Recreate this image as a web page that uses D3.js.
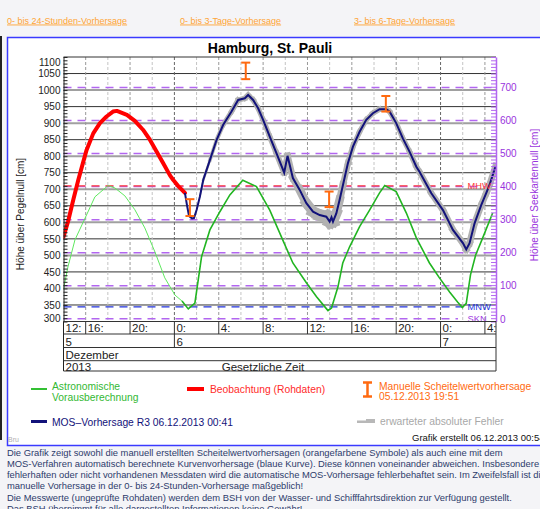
<!DOCTYPE html>
<html>
<head>
<meta charset="utf-8">
<script src="https://cdn.jsdelivr.net/npm/d3@7"></script>
<style>
body { margin: 0; background: #f4f4f7; overflow: hidden; }
svg { display: block; font-family: "Liberation Sans", Arial, sans-serif; }
</style>
</head>
<body>
<svg id="chart" width="540" height="509"></svg>
<script>
// --- data (Pegel Hamburg St. Pauli, cm ueber Pegelnull) ---
const SKN = 308;   // Seekartennull, in cm ueber PN
const MHW = 710;
const MNW = 344;
const issued = "06 00:41"; // MOS-Vorhersage R3

const astro = [
  ["05 14:00", 398], ["05 14:24", 465], ["05 15:02", 547], ["05 16:02", 619],
  ["05 16:50", 677], ["05 18:01", 711], ["05 18:38", 704], ["05 19:32", 680],
  ["05 20:26", 638], ["05 21:20", 583], ["05 22:15", 510], ["05 23:08", 432],
  ["06 00:03", 380], ["06 00:41", 362], ["06 01:15", 338], ["06 01:51", 356],
  ["06 02:27", 496], ["06 03:12", 577], ["06 04:06", 632], ["06 05:00", 683],
  ["06 06:10", 727], ["06 07:24", 708], ["06 08:36", 637], ["06 09:46", 547],
  ["06 10:41", 477], ["06 11:54", 417], ["06 12:49", 375], ["06 13:33", 345],
  ["06 13:51", 333], ["06 14:10", 341], ["06 14:45", 405], ["06 15:11", 477],
  ["06 15:48", 526], ["06 16:42", 587], ["06 17:36", 637], ["06 18:30", 689],
  ["06 18:58", 711], ["06 20:00", 693], ["06 20:55", 628], ["06 21:49", 553],
  ["06 23:00", 477], ["06 23:54", 432], ["07 00:49", 389], ["07 01:32", 359],
  ["07 01:58", 342], ["07 02:19", 355], ["07 02:42", 441], ["07 03:10", 501],
  ["07 03:48", 553], ["07 04:42", 628]
];

const observed = [
  ["05 14:00", 556], ["05 14:24", 601], ["05 14:53", 668], ["05 15:20", 728],
  ["05 15:45", 779], ["05 16:05", 819], ["05 16:41", 869], ["05 17:17", 900],
  ["05 17:53", 920], ["05 18:28", 935], ["05 18:49", 937], ["05 19:43", 925],
  ["05 20:26", 907], ["05 21:10", 880], ["05 21:48", 849], ["05 22:25", 813],
  ["05 22:58", 780], ["05 23:36", 742], ["05 23:54", 728], ["06 00:25", 707],
  ["06 00:57", 689]
];

// time, forecast value, expected absolute error
const mos = [
  ["06 00:57", 689, 0], ["06 01:08", 652, 0], ["06 01:19", 619, 0], ["06 01:35", 612, 0],
  ["06 01:46", 613, 0], ["06 02:00", 637, 0], ["06 02:18", 678, 2], ["06 02:36", 728, 3],
  ["06 03:12", 788, 5], ["06 03:48", 849, 6], ["06 04:24", 895, 7], ["06 05:09", 935, 8],
  ["06 05:45", 970, 8], ["06 06:21", 975, 8], ["06 06:39", 985, 8], ["06 07:06", 970, 8],
  ["06 07:33", 945, 8], ["06 08:00", 910, 8], ["06 08:36", 859, 8], ["06 09:12", 809, 9],
  ["06 09:54", 750, 9], ["06 10:12", 801, 10], ["06 10:41", 734, 10], ["06 11:18", 698, 12],
  ["06 11:54", 658, 14], ["06 12:30", 632, 16], ["06 13:06", 622, 18], ["06 13:42", 617, 18],
  ["06 14:00", 602, 18], ["06 14:10", 615, 18], ["06 14:18", 602, 17], ["06 14:36", 627, 14],
  ["06 14:54", 668, 12], ["06 15:12", 713, 10], ["06 15:39", 779, 9], ["06 16:06", 829, 8],
  ["06 16:42", 874, 8], ["06 17:18", 910, 8], ["06 17:54", 930, 8], ["06 18:30", 942, 8],
  ["06 19:06", 942, 8], ["06 19:24", 935, 8], ["06 20:00", 900, 8], ["06 20:36", 854, 8],
  ["06 21:12", 814, 8], ["06 21:49", 768, 9], ["06 22:07", 752, 9], ["06 23:10", 688, 9],
  ["07 00:13", 637, 10], ["07 01:07", 577, 10], ["07 02:01", 537, 10], ["07 02:19", 518, 10],
  ["07 02:37", 537, 10], ["07 03:04", 597, 10], ["07 03:40", 652, 10], ["07 04:07", 688, 10],
  ["07 04:25", 713, 10], ["07 04:58", 770, 10]
];

// manual crest forecasts: time, lower, upper
const manual = [
  ["06 01:24", 619, 670], ["06 06:26", 1033, 1083],
  ["06 13:57", 646, 693], ["06 19:04", 935, 982]
];

const pnTicks = d3.range(300, 1101, 50);
const sknTicks = d3.range(0, 701, 100);

const links = ["0- bis 24-Stunden-Vorhersage", "0- bis 3-Tage-Vorhersage", "3- bis 6-Tage-Vorhersage"];
const footer = [
  "Die Grafik zeigt sowohl die manuell erstellten Scheitelwertvorhersagen (orangefarbene Symbole) als auch eine mit dem",
  "MOS-Verfahren automatisch berechnete Kurvenvorhersage (blaue Kurve). Diese können voneinander abweichen. Insbesondere bei",
  "fehlerhaften oder nicht vorhandenen Messdaten wird die automatische MOS-Vorhersage fehlerbehaftet sein. Im Zweifelsfall ist die",
  "manuelle Vorhersage in der 0- bis 24-Stunden-Vorhersage maßgeblich!",
  "Die Messwerte (ungeprüfte Rohdaten) werden dem BSH von der Wasser- und Schifffahrtsdirektion zur Verfügung gestellt.",
  "Das BSH übernimmt für alle dargestellten Informationen keine Gewähr!"
];

// --- setup ---
const parseT = d3.timeParse("%d %H:%M");
const FONT = "'Liberation Sans', Arial, sans-serif";
const pL = 63.5, pR = 496, pT = 57, pB = 321.5;

const x = d3.scaleTime().domain([parseT("05 14:00"), parseT("07 05:00")]).range([pL, pR]);
const y = d3.scaleLinear().domain([300, 1100]).range([pB, pT]);
const y2 = d3.scaleLinear().domain([300 - SKN, 1100 - SKN]).range([pB, pT]);
const pxPerCm = y(0) - y(1);

const svg = d3.select("#chart");

// page + frame
svg.append("rect").attr("x", 0).attr("y", 36).attr("width", 2).attr("height", 404).attr("fill", "#222");
svg.append("rect").attr("x", 7.5).attr("y", 37.5).attr("width", 540).attr("height", 408)
  .attr("fill", "#fff").attr("stroke", "#3a3aff").attr("stroke-width", 1.5);

const linkX = [7, 180, 354];
svg.append("g").selectAll("text").data(links).join("text")
  .attr("x", (d, i) => linkX[i]).attr("y", 23.5)
  .attr("font-size", 9).attr("fill", "#ffa436")
  .style("text-decoration", "underline")
  .text(d => d);

svg.append("text").attr("x", 270).attr("y", 53).attr("text-anchor", "middle")
  .attr("font-size", 14).attr("font-weight", "bold").attr("fill", "#000")
  .text("Hamburg, St. Pauli");

svg.append("clipPath").attr("id", "plot")
  .append("rect").attr("x", pL).attr("y", pT).attr("width", pR - pL).attr("height", pB - pT);

// horizontal grid
const grid = svg.append("g");
grid.selectAll("line.h").data(d3.range(350, 1100, 50)).join("line")
  .attr("x1", pL).attr("x2", pR)
  .attr("y1", d => y(d)).attr("y2", d => y(d))
  .attr("stroke", d => d % 100 === 0 ? "#a0a0a0" : "#333")
  .attr("stroke-width", d => d % 100 === 0 ? 2 : 1);

// vertical grid, every 2 hours
const hours2 = d3.timeHour.every(2).range(d3.timeMinute.offset(x.domain()[0], 1), x.domain()[1]);
grid.selectAll("line.v").data(hours2).join("line")
  .attr("x1", d => x(d)).attr("x2", d => x(d)).attr("y1", pT).attr("y2", pB)
  .attr("stroke", d => d.getHours() === 0 ? "#666" : d.getHours() % 4 === 0 ? "#999" : "#c4c4c4")
  .attr("stroke-dasharray", "3,2");

// SKN reference lines (purple dashed)
grid.selectAll("line.skn").data(sknTicks).join("line")
  .attr("x1", pL).attr("x2", d => d === 0 ? 458 : 492)
  .attr("y1", d => y2(d)).attr("y2", d => y2(d))
  .attr("stroke", "#b266f0").attr("stroke-width", 1.5).attr("stroke-dasharray", "8,6");

// MHW / MNW
const marks = [[MHW, "MHW", "#ff3a3a"], [MNW, "MNW", "#2233dd"], [SKN, "SKN", "#a040e0"]];
grid.selectAll("line.mark").data(marks.slice(0, 2)).join("line")
  .attr("x1", pL).attr("x2", 462)
  .attr("y1", d => y(d[0])).attr("y2", d => y(d[0]))
  .attr("stroke", d => d[2]).attr("stroke-width", 1.2).attr("stroke-dasharray", "8,6");

// series
const pts = arr => arr.map(d => ({ t: parseT(d[0]), v: d[1], e: d[2] }));
const line = d3.line().x(d => x(d.t)).y(d => y(d.v));
const plot = svg.append("g").attr("clip-path", "url(#plot)");

const astroPts = pts(astro);
const tIssued = parseT(issued);
plot.append("path").datum(astroPts.filter(d => d.t <= tIssued))
  .attr("d", line).attr("fill", "none").attr("stroke", "#5fe85f").attr("stroke-width", 1);
plot.append("path").datum(astroPts.filter(d => d.t >= tIssued))
  .attr("d", line).attr("fill", "none").attr("stroke", "#22b522").attr("stroke-width", 1.6);

plot.append("path").datum(pts(observed))
  .attr("d", line).attr("fill", "none").attr("stroke", "#ff0000")
  .attr("stroke-width", 4).attr("stroke-linecap", "round").attr("stroke-linejoin", "round");

const mosPts = pts(mos);
plot.append("g").selectAll("line").data(d3.pairs(mosPts).filter(p => p[0].e + p[1].e > 0)).join("line")
  .attr("x1", p => x(p[0].t)).attr("y1", p => y(p[0].v))
  .attr("x2", p => x(p[1].t)).attr("y2", p => y(p[1].v))
  .attr("stroke", "#b2b2b2").attr("stroke-linecap", "square")
  .attr("stroke-width", p => (p[0].e + p[1].e) * pxPerCm);
plot.append("path").datum(mosPts)
  .attr("d", line).attr("fill", "none").attr("stroke", "#12127a").attr("stroke-width", 2);

// MHW / MNW / SKN labels on top
svg.append("g").selectAll("text").data(marks).join("text")
  .attr("x", 467.5).attr("y", d => y(d[0]) + 3.5)
  .attr("font-size", 9.3).attr("fill", d => d[2]).text(d => d[1]);

// manual crest forecasts (I-beams)
const ibeam = (g, cx, y1, y2) => {
  g.append("line").attr("x1", cx).attr("x2", cx).attr("y1", y1).attr("y2", y2);
  g.append("line").attr("x1", cx - 4.5).attr("x2", cx + 4.5).attr("y1", y1).attr("y2", y1);
  g.append("line").attr("x1", cx - 4.5).attr("x2", cx + 4.5).attr("y1", y2).attr("y2", y2);
};
const beams = svg.append("g").attr("stroke", "#ff6a10").attr("stroke-width", 2);
manual.forEach(d => ibeam(beams, x(parseT(d[0])), y(d[2]), y(d[1])));

// plot frame top
svg.append("line").attr("x1", pL).attr("x2", pR).attr("y1", pT).attr("y2", pT).attr("stroke", "#333");

// left axis
svg.append("g").attr("transform", `translate(${pL},0)`)
  .call(d3.axisLeft(y).tickValues(pnTicks).tickSize(0).tickPadding(3).tickFormat(d3.format("d")))
  .call(g => g.select(".domain").remove())
  .call(g => g.selectAll("text").attr("font-family", FONT).attr("font-size", 10).attr("fill", "#222")
    .attr("y", d => d === 300 ? -3.5 : d === 1100 ? 5 : 0));
svg.append("g").attr("transform", `translate(${pL},0)`)
  .call(d3.axisRight(y).tickValues(d3.range(300, 1101, 10)).tickSize(4).tickSizeOuter(0).tickFormat(""))
  .call(g => g.selectAll("line").attr("stroke", "#222"))
  .call(g => g.select(".domain").attr("stroke", "#222"));
svg.append("line").attr("x1", pL).attr("x2", pL).attr("y1", pB).attr("y2", 371).attr("stroke", "#222");

svg.append("text").attr("transform", "translate(24,214) rotate(-90)")
  .attr("text-anchor", "middle").attr("font-size", 10).attr("fill", "#222")
  .text("Höhe über Pegelnull [cm]");

// right axis (Seekartennull)
svg.append("g").attr("transform", `translate(${pR},0)`)
  .call(d3.axisLeft(y2).tickValues(d3.range(-8, 793, 10)).tickSize(5).tickSizeOuter(0).tickFormat(""))
  .call(g => g.selectAll("line").attr("stroke", "#b266f0"))
  .call(g => g.select(".domain").attr("stroke", "#b266f0").attr("stroke-width", 1.5));
svg.append("g").attr("transform", `translate(${pR},0)`)
  .call(d3.axisRight(y2).tickValues(sknTicks).tickSize(0).tickPadding(4))
  .call(g => g.select(".domain").remove())
  .call(g => g.selectAll("text").attr("font-family", FONT).attr("font-size", 10).attr("fill", "#9933dd"));
svg.append("text").attr("transform", "translate(538,195) rotate(-90)")
  .attr("text-anchor", "middle").attr("font-size", 10).attr("fill", "#9933dd")
  .text("Höhe über Seekartennull [cm]");

// time axis rows
const rows = [pB, 334, 347.5, 360.7, 371];
const timeAx = svg.append("g").attr("stroke", "#333");
timeAx.selectAll("line.row").data(rows).join("line")
  .attr("x1", pL).attr("x2", pR).attr("y1", d => d).attr("y2", d => d);
timeAx.append("line").attr("x1", pR).attr("x2", pR).attr("y1", pB).attr("y2", 371);

const h4 = d3.timeHour.every(4).range(parseT("05 12:00"), x.domain()[1]);
const fmtH = d3.timeFormat("%-H:");
timeAx.selectAll("line.sep").data(h4.filter(d => x(d) > pL)).join("line")
  .attr("x1", d => x(d)).attr("x2", d => x(d)).attr("y1", pB)
  .attr("y2", d => d.getHours() === 0 ? 347.5 : 334);
svg.append("g").selectAll("text").data(h4.filter(d => x(d3.timeHour.offset(d, 4)) - Math.max(x(d), pL) > 14)).join("text")
  .attr("x", d => Math.max(x(d), pL) + 2).attr("y", 332)
  .attr("font-size", 11.5).attr("fill", "#222").text(fmtH);

const days = d3.timeDay.range(parseT("05 00:00"), x.domain()[1]);
svg.append("g").selectAll("text").data(days).join("text")
  .attr("x", d => Math.max(x(d), pL) + 2).attr("y", 345.5)
  .attr("font-size", 11.5).attr("fill", "#222").text(d3.timeFormat("%-d"));

svg.append("text").attr("x", pL + 2).attr("y", 358.5).attr("font-size", 11.5).attr("fill", "#222").text("Dezember");
svg.append("text").attr("x", pL + 2).attr("y", 370.5).attr("font-size", 11.5).attr("fill", "#222").text("2013");
svg.append("text").attr("x", 263).attr("y", 370.5).attr("text-anchor", "middle").attr("font-size", 11.5).attr("fill", "#222").text("Gesetzliche Zeit");

// legend
const lg = svg.append("g").attr("font-size", 10.3);
lg.append("line").attr("x1", 31).attr("x2", 47).attr("y1", 389).attr("y2", 389).attr("stroke", "#33c033").attr("stroke-width", 2);
lg.append("text").attr("x", 52).attr("y", 389.5).attr("fill", "#33b833").text("Astronomische");
lg.append("text").attr("x", 52).attr("y", 400.5).attr("fill", "#33b833").text("Vorausberechnung");
lg.append("line").attr("x1", 187).attr("x2", 204).attr("y1", 389).attr("y2", 389).attr("stroke", "#ff0000").attr("stroke-width", 4);
lg.append("text").attr("x", 210).attr("y", 393).attr("fill", "#ff2a2a").text("Beobachtung (Rohdaten)");
const lb = lg.append("g").attr("stroke", "#ff6a10").attr("stroke-width", 2.5);
ibeam(lb, 367.5, 382.5, 396.5);
lg.append("text").attr("x", 379).attr("y", 389.5).attr("fill", "#ff6a10").text("Manuelle Scheitelwertvorhersage");
lg.append("text").attr("x", 379).attr("y", 399.5).attr("fill", "#ff6a10").text("05.12.2013 19:51");
lg.append("line").attr("x1", 31).attr("x2", 47).attr("y1", 421.5).attr("y2", 421.5).attr("stroke", "#12127a").attr("stroke-width", 3);
lg.append("text").attr("x", 52).attr("y", 425.5).attr("fill", "#12127a").text("MOS\u2013Vorhersage R3 06.12.2013 00:41");
lg.append("path").attr("d", "M357,420.5h9v-1.5h9v4h-18z").attr("fill", "#b8b8b8");
lg.append("text").attr("x", 380).attr("y", 425).attr("fill", "#a8a8a8").text("erwarteter absoluter Fehler");

svg.append("text").attr("x", 8).attr("y", 442).attr("font-size", 7).attr("fill", "#b0b0b0").text("Bru");
svg.append("text").attr("x", 412).attr("y", 440.5).attr("font-size", 9.5).attr("fill", "#111").text("Grafik erstellt 06.12.2013 00:54");

// footer text
svg.append("g").selectAll("text").data(footer).join("text")
  .attr("x", 7).attr("y", (d, i) => 455.5 + i * 11.3)
  .attr("font-size", 9.4).attr("fill", "#2d3b6b").text(d => d);
</script>
</body>
</html>
